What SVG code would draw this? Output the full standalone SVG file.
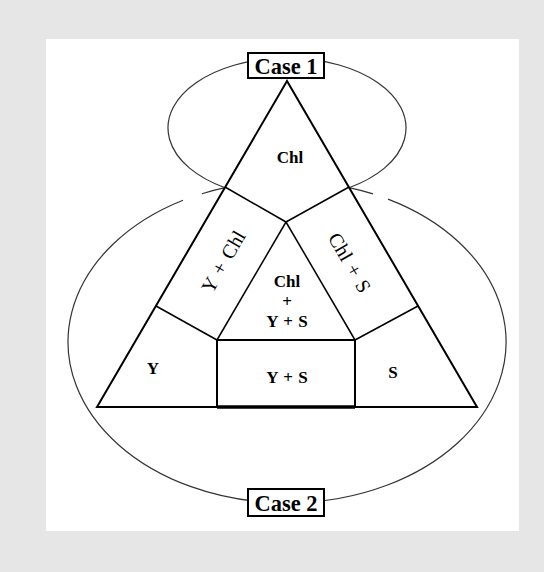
<svg xmlns="http://www.w3.org/2000/svg" width="544" height="572" viewBox="0 0 544 572">
<style>
.bg{fill:#e6e6e6}
.panel{fill:#ffffff}
.ell{fill:none;stroke:#333;stroke-width:1.2}
.edge{fill:none;stroke:#000;stroke-width:2;stroke-linejoin:miter}
.inner{fill:none;stroke:#000;stroke-width:1.5}
.box{fill:#fff;stroke:#000;stroke-width:2}
.t{font-family:"Liberation Serif","Times New Roman",serif;font-weight:bold;fill:#000;text-anchor:middle}
.lbl{font-size:17px;word-spacing:1px}
.rot{font-size:20px;font-weight:normal;word-spacing:2px}
.case{font-size:24px}
</style>
<rect class="bg" x="0" y="0" width="544" height="572"/>
<rect class="panel" x="46" y="39" width="473" height="492"/>
<g id="connectors">
  <path class="ell" d="M225,187.7 A119,70 0 1 1 349,187.7"/>
  <path class="ell" d="M183,200.3 A219,161 0 1 0 388,199.1"/>
  <path class="ell" d="M202,193.7 A219,161 0 0 1 225,187.6"/>
  <path class="ell" d="M349,187.6 A219,161 0 0 1 373,193.9"/>
  <polygon class="edge" points="287,81 97,407 477,407"/>
  <line class="inner" x1="225" y1="187" x2="286" y2="222"/>
  <line class="inner" x1="349" y1="187" x2="286" y2="222"/>
  <line class="inner" x1="286" y1="222" x2="217" y2="340"/>
  <line class="inner" x1="286" y1="222" x2="355" y2="340"/>
  <line class="inner" x1="156" y1="306" x2="217" y2="340"/>
  <line class="inner" x1="418" y1="306" x2="355" y2="340"/>
</g>
<g id="chl"><text class="t lbl" x="290" y="163">Chl</text></g>
<g id="y-chl"><text class="t rot" transform="translate(224,262) rotate(-60)" y="6">Y + Chl</text></g>
<g id="chl-s"><text class="t rot" transform="translate(349,263) rotate(60)" y="6">Chl + S</text></g>
<g id="chl-y-s">
  <text class="t lbl" x="287" y="287">Chl</text>
  <text class="t lbl" x="287" y="307">+</text>
  <text class="t lbl" x="287" y="327">Y + S</text>
</g>
<g id="y"><text class="t lbl" x="153" y="374">Y</text></g>
<g id="s"><text class="t lbl" x="393" y="378">S</text></g>
<g id="y-s">
  <rect class="box" x="217" y="340" width="138" height="67"/>
  <line x1="217" y1="407" x2="355" y2="407" stroke="#000" stroke-width="3.5"/>
  <text class="t lbl" x="287" y="383">Y + S</text>
</g>
<g id="case1">
  <rect class="box" x="248" y="53" width="76" height="25"/>
  <text class="t case" x="286" y="74" textLength="63" lengthAdjust="spacingAndGlyphs">Case 1</text>
</g>
<g id="case2">
  <rect class="box" x="248" y="489" width="76" height="27"/>
  <text class="t case" x="286" y="511" textLength="63" lengthAdjust="spacingAndGlyphs">Case 2</text>
</g>
</svg>
